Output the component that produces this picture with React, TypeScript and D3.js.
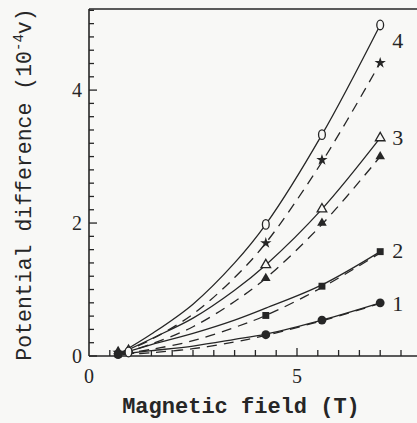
import React from "react";
import * as d3 from "d3";

const W = 417;
const H = 423;

// x positions where curve heights were read
const curveX = [0.8, 1.5, 2.5, 3.5, 4.25, 5.6, 7.0];
const curve4Solid = [0.06, 0.33, 0.78, 1.4, 1.98, 3.33, 4.98];
const curve4Dashed = [0.05, 0.25, 0.63, 1.18, 1.7, 2.92, 4.41];
const curve3Solid = [0.05, 0.26, 0.57, 0.99, 1.37, 2.21, 3.28];
const curve3Dashed = [0.04, 0.18, 0.44, 0.82, 1.17, 1.98, 3.0];
const curve2Solid = [0.04, 0.17, 0.34, 0.54, 0.72, 1.07, 1.57];
const curve2Dashed = [0.03, 0.1, 0.23, 0.43, 0.61, 1.03, 1.55];
const curve1Solid = [0.03, 0.08, 0.15, 0.25, 0.33, 0.54, 0.8];
const curve1Dashed = [0.02, 0.05, 0.11, 0.21, 0.31, 0.53, 0.79];

// measured markers
const filledX = [0.7, 4.25, 5.6, 7.0];
const openX = [0.95, 4.25, 5.6, 7.0];
const circle1 = [0.02, 0.32, 0.54, 0.8];
const square2 = [0.03, 0.61, 1.05, 1.57];
const openTri3 = [0.08, 1.37, 2.21, 3.28];
const filledTri3 = [0.07, 1.17, 2.0, 3.0];
const openDiamond4 = [0.06, 1.98, 3.33, 4.98];
const star4 = [0.05, 1.7, 2.95, 4.41];

const seriesLabels = ["1", "2", "3", "4"];
const seriesLabelY = [0.8, 1.6, 3.3, 4.75];
const yTickLabels = [0, 2, 4];
const xTickLabels = [0, 5];

const INK = "#262626";
const PAPER = "#f8f8f6";

export default function App() {
  const x = d3.scaleLinear().domain([0, 8]).range([89, 421.8]);
  const y = d3.scaleLinear().domain([0, 5.22]).range([356, 9]);
  const line = d3
    .line<number>()
    .x((_, i) => x(curveX[i]))
    .y((d) => y(d))
    .curve(d3.curveCatmullRom);

  const curves = [
    { v: curve4Solid, dash: null },
    { v: curve4Dashed, dash: "10,7" },
    { v: curve3Solid, dash: null },
    { v: curve3Dashed, dash: "10,7" },
    { v: curve2Solid, dash: null },
    { v: curve2Dashed, dash: "10,7" },
    { v: curve1Solid, dash: null },
    { v: curve1Dashed, dash: "10,7" },
  ];

  const yMinor = d3.range(0, 5.21, 0.2);
  const xMinor = d3.range(0.5, 8, 0.5);

  const tri = d3.symbol().type(d3.symbolTriangle).size(40)();
  const sq = d3.symbol().type(d3.symbolSquare).size(48)();
  const star = d3.symbol().type(d3.symbolStar).size(40)();

  return (
    <svg
      width={W}
      height={H}
      style={{ position: "absolute", left: 0, top: 0, background: PAPER }}
    >
      <rect x={0} y={0} width={W} height={H} fill={PAPER} />
      {/* frame */}
      <line x1={x(0)} x2={x(0)} y1={y(5.22)} y2={y(0)} stroke={INK} strokeWidth={1.6} />
      <line x1={x(0)} x2={x(8)} y1={y(0)} y2={y(0)} stroke={INK} strokeWidth={1.6} />
      <line x1={x(0)} x2={x(8)} y1={y(5.22)} y2={y(5.22)} stroke={INK} strokeWidth={1.6} />
      {/* y ticks */}
      {yMinor.map((t, i) => {
        const major = Math.abs(t - Math.round(t / 2) * 2) < 1e-6;
        return (
          <line
            key={"yt" + i}
            x1={x(0)}
            x2={x(0) + (major ? 8 : 5)}
            y1={y(t)}
            y2={y(t)}
            stroke={INK}
            strokeWidth={1.3}
          />
        );
      })}
      {/* x ticks */}
      {xMinor.map((t, i) => (
        <line
          key={"xt" + i}
          x1={x(t)}
          x2={x(t)}
          y1={y(0)}
          y2={y(0) - (t === 5 ? 8 : 6)}
          stroke={INK}
          strokeWidth={1.3}
        />
      ))}
      {/* tick labels */}
      {yTickLabels.map((t) => (
        <text
          key={"yl" + t}
          x={x(0) - 7}
          y={y(t) + 7}
          textAnchor="end"
          fontFamily="Liberation Serif, serif"
          fontSize={20}
          fill={INK}
        >
          {t}
        </text>
      ))}
      {xTickLabels.map((t) => (
        <text
          key={"xl" + t}
          x={x(t)}
          y={383}
          textAnchor="middle"
          fontFamily="Liberation Serif, serif"
          fontSize={20}
          fill={INK}
        >
          {t}
        </text>
      ))}
      {/* curves */}
      {curves.map((c, i) => (
        <path
          key={"c" + i}
          d={line(c.v) || ""}
          fill="none"
          stroke={INK}
          strokeWidth={1.3}
          strokeDasharray={c.dash || undefined}
        />
      ))}
      {/* markers */}
      {filledX.map((xv, i) => (
        <circle key={"m1" + i} cx={x(xv)} cy={y(circle1[i])} r={4.4} fill={INK} />
      ))}
      {filledX.map((xv, i) => (
        <path key={"m2" + i} d={sq || ""} transform={`translate(${x(xv)},${y(square2[i])})`} fill={INK} />
      ))}
      {filledX.map((xv, i) => (
        <path key={"m3f" + i} d={tri || ""} transform={`translate(${x(xv)},${y(filledTri3[i])})`} fill={INK} />
      ))}
      {openX.map((xv, i) => (
        <path
          key={"m3o" + i}
          d={tri || ""}
          transform={`translate(${x(xv)},${y(openTri3[i])})`}
          fill={PAPER}
          stroke={INK}
          strokeWidth={1.3}
        />
      ))}
      {filledX.map((xv, i) => (
        <path key={"m4s" + i} d={star || ""} transform={`translate(${x(xv)},${y(star4[i])})`} fill={INK} />
      ))}
      {openX.map((xv, i) => (
        <ellipse
          key={"m4o" + i}
          cx={x(xv)}
          cy={y(openDiamond4[i])}
          rx={3.4}
          ry={4.8}
          fill={PAPER}
          stroke={INK}
          strokeWidth={1.3}
        />
      ))}
      {/* series labels */}
      {seriesLabels.map((s, i) => (
        <text
          key={"sl" + s}
          x={x(7.0) + 12}
          y={y(seriesLabelY[i]) + 8}
          fontFamily="Liberation Serif, serif"
          fontSize={22}
          fill={INK}
        >
          {s}
        </text>
      ))}
      {/* axis titles */}
      <text
        x={241}
        y={413}
        textAnchor="middle"
        fontFamily="Liberation Mono, monospace"
        fontWeight="bold"
        fontSize={22}
        fill={INK}
      >
        Magnetic field (T)
      </text>
      <text
        transform={`translate(31,${(7 + 362) / 2}) rotate(-90)`}
        textAnchor="middle"
        fontFamily="Liberation Mono, monospace"
        fontSize={21.5}
        fill={INK}
      >
        Potential difference (10
        <tspan baselineShift="super" fontSize={14}>-4</tspan>
        v)
      </text>
    </svg>
  );
}
